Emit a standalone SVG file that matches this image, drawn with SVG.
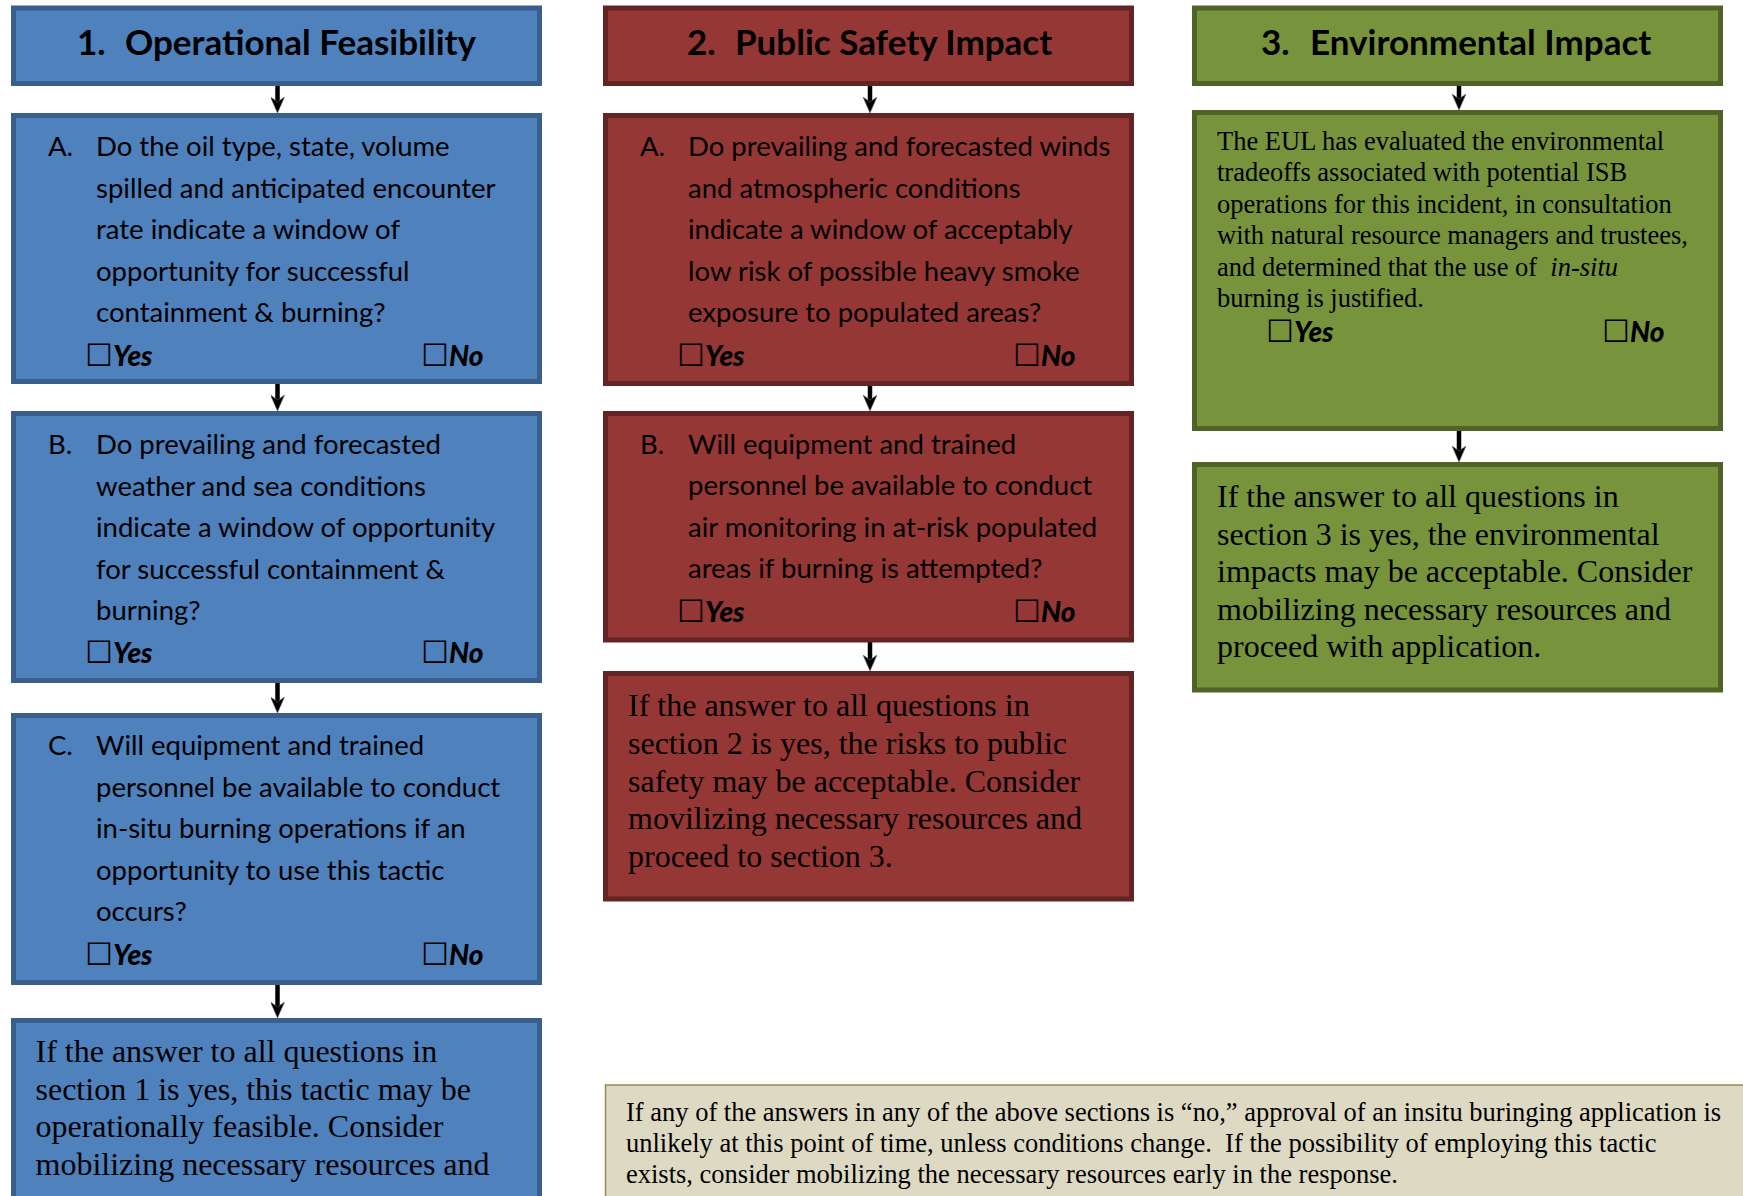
<svg xmlns="http://www.w3.org/2000/svg" width="1743" height="1196" viewBox="0 0 1743 1196">
<defs>
<style>
.bg{fill:#ffffff}
.bl{fill:#4f81bd;stroke:#3a5f8d;stroke-width:5}
.rd{fill:#953735;stroke:#632523;stroke-width:5}
.gr{fill:#77933c;stroke:#4f6228;stroke-width:5}
.ft{fill:#ddd9c3;stroke:#948a54;stroke-width:1.5}
.hd{font-family:Lato,"Liberation Sans",sans-serif;font-weight:700;font-size:35px;fill:#000}
.q{font-family:Lato,"Liberation Sans",sans-serif;font-size:27.5px;fill:#000}
.yn{font-family:Lato,"Liberation Sans",sans-serif;font-weight:900;font-style:italic;font-size:28px;fill:#000}
.cb{font-family:"DejaVu Sans",sans-serif;font-weight:400;font-style:normal;font-size:31px}
.sm{font-family:"Liberation Serif","Times New Roman",serif;font-size:32px;fill:#000;white-space:pre}
.ev{font-family:"Liberation Serif","Times New Roman",serif;font-size:26.5px;fill:#000;white-space:pre}
.fn{font-family:"Liberation Serif","Times New Roman",serif;font-size:26.5px;fill:#000;white-space:pre}
.cn{stroke:#000;stroke-width:4.5;fill:none;marker-end:url(#ah)}
</style>
<marker id="ah" viewBox="0 0 16 14" refX="8" refY="7" markerWidth="16" markerHeight="14" markerUnits="userSpaceOnUse" orient="auto">
<path d="M0,0 L5,7 L0,14 L16,7 Z" fill="#000" stroke="#666" stroke-width="0.6"/>
</marker>
</defs>
<rect class="bg" x="0" y="0" width="1743" height="1196"/>

<g id="connectors">
<line class="cn" x1="277.5" y1="86" x2="277.5" y2="105"/>
<line class="cn" x1="277.5" y1="384" x2="277.5" y2="403"/>
<line class="cn" x1="277.5" y1="683" x2="277.5" y2="705"/>
<line class="cn" x1="277.5" y1="985" x2="277.5" y2="1010"/>
<line class="cn" x1="870" y1="86" x2="870" y2="105"/>
<line class="cn" x1="870" y1="386" x2="870" y2="403"/>
<line class="cn" x1="870" y1="642" x2="870" y2="663"/>
<line class="cn" x1="1459" y1="86" x2="1459" y2="102"/>
<line class="cn" x1="1459" y1="431" x2="1459" y2="454"/>
</g>

<g id="h1">
<rect class="bl" x="13.5" y="8" width="526" height="75.5"/>
<text class="hd" y="55"><tspan x="77">1.</tspan><tspan x="125">Operational Feasibility</tspan></text>
</g>
<g id="q1a">
<rect class="bl" x="13.5" y="115.5" width="526" height="266"/>
<text class="q" x="48" y="156">A.</text>
<text class="q"><tspan x="96" y="156">Do the oil type, state, volume</tspan><tspan x="96" y="197.5">spilled and anticipated encounter</tspan><tspan x="96" y="239">rate indicate a window of</tspan><tspan x="96" y="280.5">opportunity for successful</tspan><tspan x="96" y="322">containment &amp; burning?</tspan></text>
<text class="yn" y="366"><tspan class="cb" x="85">☐</tspan><tspan x="113">Yes</tspan><tspan class="cb" x="421">☐</tspan><tspan x="449">No</tspan></text>
</g>
<g id="q1b">
<rect class="bl" x="13.5" y="413.5" width="526" height="267"/>
<text class="q" x="48" y="454">B.</text>
<text class="q"><tspan x="96" y="454">Do prevailing and forecasted</tspan><tspan x="96" y="495.5">weather and sea conditions</tspan><tspan x="96" y="537">indicate a window of opportunity</tspan><tspan x="96" y="578.5">for successful containment &amp;</tspan><tspan x="96" y="620">burning?</tspan></text>
<text class="yn" y="663"><tspan class="cb" x="85">☐</tspan><tspan x="113">Yes</tspan><tspan class="cb" x="421">☐</tspan><tspan x="449">No</tspan></text>
</g>
<g id="q1c">
<rect class="bl" x="13.5" y="715.5" width="526" height="267"/>
<text class="q" x="48" y="755">C.</text>
<text class="q"><tspan x="96" y="755">Will equipment and trained</tspan><tspan x="96" y="796.5">personnel be available to conduct</tspan><tspan x="96" y="838">in-situ burning operations if an</tspan><tspan x="96" y="879.5">opportunity to use this tactic</tspan><tspan x="96" y="921">occurs?</tspan></text>
<text class="yn" y="965"><tspan class="cb" x="85">☐</tspan><tspan x="113">Yes</tspan><tspan class="cb" x="421">☐</tspan><tspan x="449">No</tspan></text>
</g>
<g id="s1">
<rect class="bl" x="13.5" y="1020.5" width="526" height="200"/>
<text class="sm"><tspan x="35.5" y="1062">If the answer to all questions in</tspan><tspan x="35.5" y="1099.5">section 1 is yes, this tactic may be</tspan><tspan x="35.5" y="1137">operationally feasible. Consider</tspan><tspan x="35.5" y="1175">mobilizing necessary resources and</tspan></text>
</g>

<g id="h2">
<rect class="rd" x="605.5" y="8" width="526" height="75.5"/>
<text class="hd" y="55"><tspan x="687">2.</tspan><tspan x="735">Public Safety Impact</tspan></text>
</g>
<g id="q2a">
<rect class="rd" x="605.5" y="115.5" width="526" height="268"/>
<text class="q" x="640" y="156">A.</text>
<text class="q"><tspan x="688" y="156">Do prevailing and forecasted winds</tspan><tspan x="688" y="197.5">and atmospheric conditions</tspan><tspan x="688" y="239">indicate a window of acceptably</tspan><tspan x="688" y="280.5">low risk of possible heavy smoke</tspan><tspan x="688" y="322">exposure to populated areas?</tspan></text>
<text class="yn" y="366"><tspan class="cb" x="677">☐</tspan><tspan x="705">Yes</tspan><tspan class="cb" x="1013">☐</tspan><tspan x="1041">No</tspan></text>
</g>
<g id="q2b">
<rect class="rd" x="605.5" y="413.5" width="526" height="226.5"/>
<text class="q" x="640" y="453.5">B.</text>
<text class="q"><tspan x="688" y="453.5">Will equipment and trained</tspan><tspan x="688" y="495">personnel be available to conduct</tspan><tspan x="688" y="536.5">air monitoring in at-risk populated</tspan><tspan x="688" y="578">areas if burning is attempted?</tspan></text>
<text class="yn" y="621.5"><tspan class="cb" x="677">☐</tspan><tspan x="705">Yes</tspan><tspan class="cb" x="1013">☐</tspan><tspan x="1041">No</tspan></text>
</g>
<g id="s2">
<rect class="rd" x="605.5" y="673.5" width="526" height="225.5"/>
<text class="sm"><tspan x="628" y="716">If the answer to all questions in</tspan><tspan x="628" y="753.8">section 2 is yes, the risks to public</tspan><tspan x="628" y="791.6">safety may be acceptable. Consider</tspan><tspan x="628" y="829.4">movilizing necessary resources and</tspan><tspan x="628" y="867">proceed to section 3.</tspan></text>
</g>

<g id="h3">
<rect class="gr" x="1194.5" y="8" width="526" height="75.5"/>
<text class="hd" y="55"><tspan x="1261">3.</tspan><tspan x="1310">Environmental Impact</tspan></text>
</g>
<g id="q3a">
<rect class="gr" x="1194.5" y="112.5" width="526" height="316"/>
<text class="ev"><tspan x="1217" y="149.5">The EUL has evaluated the environmental</tspan><tspan x="1217" y="181">tradeoffs associated with potential ISB</tspan><tspan x="1217" y="212.5">operations for this incident, in consultation</tspan><tspan x="1217" y="244">with natural resource managers and trustees,</tspan><tspan x="1217" y="275.5">and determined that the use of  <tspan font-style="italic">in-situ</tspan></tspan><tspan x="1217" y="307">burning is justified.</tspan></text>
<text class="yn" y="342"><tspan class="cb" x="1266">☐</tspan><tspan x="1294">Yes</tspan><tspan class="cb" x="1602">☐</tspan><tspan x="1630">No</tspan></text>
</g>
<g id="s3">
<rect class="gr" x="1194.5" y="464.5" width="526" height="225.5"/>
<text class="sm"><tspan x="1217" y="507">If the answer to all questions in</tspan><tspan x="1217" y="544.5">section 3 is yes, the environmental</tspan><tspan x="1217" y="582">impacts may be acceptable. Consider</tspan><tspan x="1217" y="619.5">mobilizing necessary resources and</tspan><tspan x="1217" y="657">proceed with application.</tspan></text>
</g>

<g id="note">
<rect class="ft" x="605.5" y="1085" width="1200" height="200"/>
<text class="fn"><tspan x="626" y="1121">If any of the answers in any of the above sections is “no,” approval of an insitu buringing application is</tspan><tspan x="626" y="1152">unlikely at this point of time, unless conditions change.  If the possibility of employing this tactic</tspan><tspan x="626" y="1183">exists, consider mobilizing the necessary resources early in the response.</tspan></text>
</g>
</svg>
